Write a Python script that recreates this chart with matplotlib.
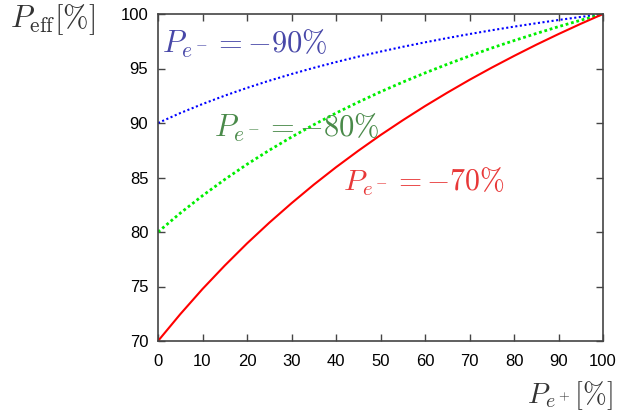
import matplotlib; matplotlib.use("Agg")
import matplotlib.pyplot as plt

plt.rcParams['mathtext.fontset'] = 'cm'
plt.rcParams['font.family'] = ['Liberation Sans', 'DejaVu Sans']

# positron polarisation P_e+ [%]
p_pos = [0, 5, 10, 15, 20, 25, 30, 35, 40, 45, 50, 55, 60, 65, 70, 75, 80, 85, 90, 95, 100]
# effective polarisation P_eff [%]
eff_90 = [90.00, 90.91, 91.74, 92.51, 93.22, 93.88, 94.49, 95.06, 95.59, 96.09, 96.55,
          96.99, 97.40, 97.79, 98.16, 98.51, 98.84, 99.15, 99.45, 99.73, 100.0]
eff_80 = [80.00, 81.73, 83.33, 84.82, 86.21, 87.50, 88.71, 89.84, 90.91, 91.91, 92.86,
          93.75, 94.59, 95.39, 96.15, 96.88, 97.56, 98.21, 98.84, 99.43, 100.0]
eff_70 = [70.00, 72.46, 74.77, 76.92, 78.95, 80.85, 82.64, 84.34, 85.94, 87.45, 88.89,
          90.25, 91.55, 92.78, 93.96, 95.08, 96.15, 97.18, 98.16, 99.10, 100.0]

fig = plt.figure(figsize=(6.21, 4.17), dpi=100)
ax = fig.add_axes([158/621, 1 - 341/417, 445/621, 327/417])

ax.plot(p_pos, eff_90, color="#0000ff", ls=(0, (1, 1.2)), lw=1.5)
ax.plot(p_pos, eff_80, color="#00ee00", ls=(0, (1, 1)), lw=2.0)
ax.plot(p_pos, eff_70, color="#ff0000", ls="-", lw=1.5)

ax.set_xlim(0, 100); ax.set_ylim(70, 100)
ax.set_xticks(range(0, 101, 10)); ax.set_yticks(range(70, 101, 5))
ax.tick_params(direction="in", top=True, right=True, labelsize=12, length=5,
               width=1, color="#444444")
ax.tick_params(axis="x", pad=9)
ax.tick_params(axis="y", pad=7)
for s in ax.spines.values():
    s.set_color("#444444"); s.set_linewidth(1.2)

ax.text(0.01, 0.88, r"$P_{e^-} = -90\%$", transform=ax.transAxes, fontsize=22, color="#4848a8")
ax.text(0.125, 0.625, r"$P_{e^-} = -80\%$", transform=ax.transAxes, fontsize=22, color="#4a8a4a")
ax.text(0.415, 0.46, r"$P_{e^-} = -70\%$", transform=ax.transAxes, fontsize=21.5, color="#e83838")

fig.text(10/621, 1 - 20/417, r"$P_{\rm eff}[\%]$", fontsize=22, va="center", ha="left", color="#333333")
fig.text(613/621, 1 - 396/417, r"$P_{e^+}[\%]$", fontsize=20.5, va="center", ha="right", color="#333333")

fig.savefig("out.png", dpi=100)
